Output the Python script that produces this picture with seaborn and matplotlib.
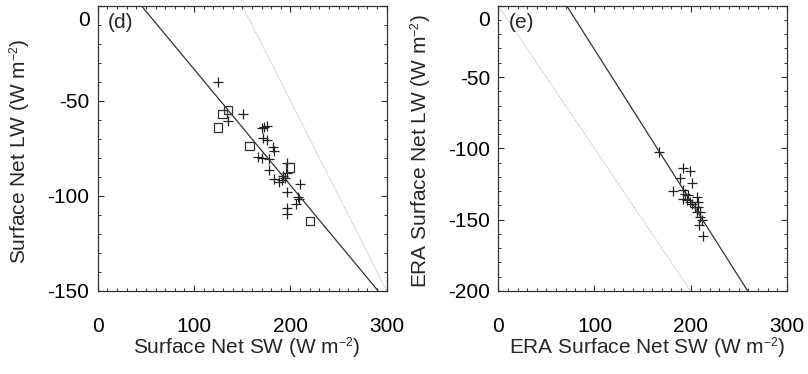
import numpy as np
import pandas as pd
import matplotlib
matplotlib.use("Agg")
import matplotlib.pyplot as plt
import matplotlib.transforms as mtransforms
import matplotlib._mathtext as _mt
from matplotlib.ticker import MultipleLocator
import seaborn as sns

_mt.SHRINK_FACTOR = 0.58

sns.set_style("ticks")
plt.rcParams['font.family'] = ['Liberation Sans', 'DejaVu Sans']
plt.rcParams['mathtext.fontset'] = 'custom'
plt.rcParams['mathtext.rm'] = 'Liberation Sans'
plt.rcParams['mathtext.it'] = 'Liberation Sans'
plt.rcParams['axes.unicode_minus'] = False

# ---------------- data: panel (d) ----------------
d_plus_sw = [125.2, 134.9, 151.1, 170.9, 173.0, 175.4, 171.9, 175.4, 181.6, 183.4,
             166.1, 170.2, 178.2, 178.2, 183.0, 188.6, 191.0, 194.5, 196.2, 196.9,
             196.9, 210.0, 208.3, 205.5, 196.2, 196.2, 192.0, 209.0]
d_plus_lw = [-40.3, -60.5, -57.1, -64.5, -64.0, -63.3, -69.7, -70.6, -74.1, -76.2,
             -79.4, -80.2, -80.6, -86.4, -91.1, -92.5, -91.6, -90.8, -82.9, -88.1,
             -97.8, -93.9, -100.4, -104.2, -106.2, -109.7, -89.5, -101.5]
d_sq_sw = [124.6, 129.4, 134.9, 157.4, 199.6, 220.4]
d_sq_lw = [-64.1, -56.9, -54.8, -73.8, -85.0, -113.2]
d_fit = [27.6, -0.61]      # intercept, slope (solid)
d_ref = [150.0, -1.0]      # intercept, slope (dotted)

# ---------------- data: panel (e) ----------------
e_plus_sw = [167.5, 192.4, 199.4, 188.8, 201.2, 182.0, 192.4, 194.2, 192.4, 196.0,
             199.4, 206.4, 208.0, 204.6, 208.0, 209.8, 206.4, 209.8, 211.6, 209.1,
             213.3, 197.6, 201.5]
e_plus_lw = [-102.9, -114.1, -116.0, -121.1, -124.2, -129.8, -129.3, -131.7, -135.2, -136.4,
             -137.6, -134.0, -137.6, -141.1, -141.1, -144.6, -144.6, -148.1, -150.4, -153.9,
             -161.6, -132.8, -139.2]
e_fit = [75.5, -1.062]
e_ref = [0.0, -1.0]

FS = 15
fig = plt.figure(figsize=(8.08, 3.74), dpi=100)
ax1 = fig.add_axes([0.121, 0.222, 0.3576, 0.7628])
ax2 = fig.add_axes([0.6167, 0.222, 0.3570, 0.7628])

def style(ax, ylim, ymajor, xlabel, ylabel, tag):
    ax.set_xlim(0, 300)
    ax.set_ylim(*ylim)
    ax.xaxis.set_major_locator(MultipleLocator(100))
    ax.xaxis.set_minor_locator(MultipleLocator(10))
    ax.yaxis.set_major_locator(MultipleLocator(ymajor))
    ax.yaxis.set_minor_locator(MultipleLocator(10))
    ax.tick_params(which='both', direction='in', top=True, right=True,
                   color='#333333', labelsize=FS, labelcolor='black')
    ax.tick_params(which='major', length=4, width=0.8)
    ax.tick_params(which='minor', length=2.2, width=0.7)
    ax.tick_params(axis='x', which='major', pad=19)
    ax.tick_params(axis='y', which='major', pad=6)
    for sp in ax.spines.values():
        sp.set_color('#333333')
        sp.set_linewidth(0.9)
    ax.set_xlabel(xlabel, fontsize=FS)
    ax.set_ylabel(ylabel, fontsize=FS, va='center')
    ax.xaxis.set_label_coords(0.515, -0.155)
    ax.yaxis.set_label_coords(-0.268, 0.49)
    ax.text(0.035, 0.94, tag, transform=ax.transAxes, fontsize=FS,
            ha='left', va='center')
    ax.set_yticks(np.arange(ylim[0], ylim[1] + 1, ymajor))
    ax.set_xticks([0, 100, 200, 300])
    top = ax.yaxis.get_major_ticks()[-1].label1
    top.set_transform(top.get_transform() +
                      mtransforms.ScaledTranslation(0, -9.5 / 72, fig.dpi_scale_trans))

def draw_line(ax, coef, **kw):
    xs = np.array([0.0, 300.0])
    ys = coef[0] + coef[1] * xs
    sns.lineplot(x=xs, y=ys, ax=ax, **kw)

# panel (d)
draw_line(ax1, d_ref, color='#b0b0b0', lw=0.7, linestyle=(0, (1, 1)))
draw_line(ax1, d_fit, color='#333333', lw=0.9)
sns.scatterplot(x=d_plus_sw, y=d_plus_lw, ax=ax1, marker='+', s=55,
                color='#222222', linewidth=0.9)
sns.scatterplot(x=d_sq_sw, y=d_sq_lw, ax=ax1, marker='s', s=36,
                facecolors='none', edgecolor='#333333', linewidth=0.9)
style(ax1, (-150, 0), 50, 'Surface Net SW (W m$^{-2}$)',
      'Surface Net LW (W m$^{-2}$)', '(d)')

# panel (e)
draw_line(ax2, e_ref, color='#b0b0b0', lw=0.7, linestyle=(0, (1, 1)))
draw_line(ax2, e_fit, color='#333333', lw=0.9)
sns.scatterplot(x=e_plus_sw, y=e_plus_lw, ax=ax2, marker='+', s=55,
                color='#222222', linewidth=0.9)
style(ax2, (-200, 0), 50, 'ERA Surface Net SW (W m$^{-2}$)',
      'ERA Surface Net LW (W m$^{-2}$)', '(e)')

fig.savefig('out.png', dpi=100)
